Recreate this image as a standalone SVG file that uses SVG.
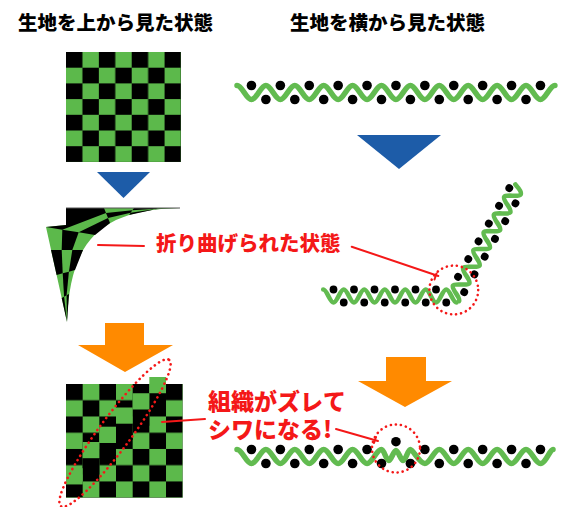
<svg xmlns="http://www.w3.org/2000/svg" xmlns:xlink="http://www.w3.org/1999/xlink" width="566" height="507" viewBox="0 0 566 507">
  <style>
    .title { font-family: "Noto Sans CJK JP", "Noto Sans", sans-serif; font-weight: 900; font-size: 19.5px; fill: #000; }
    .lbl { font-family: "Noto Sans CJK JP", "Noto Sans", sans-serif; font-weight: 900; fill: #f41818; }
    .grn { fill: #5cb94b; }
    .blk { fill: #000; }
    .wave { fill: none; stroke: #62bb50; stroke-width: 5.5; stroke-linecap: round; stroke-linejoin: round; }
    .wave-s { fill: none; stroke: #62bb50; stroke-width: 4.6; stroke-linecap: round; stroke-linejoin: round; }
    .dot { fill: #000; }
    .lead { fill: none; stroke: #f41818; stroke-width: 2; stroke-linecap: round; }
    .ring { fill: none; stroke: #f41818; stroke-width: 2.6; stroke-dasharray: 0.1 5; stroke-linecap: round; }
    .blue { fill: #1d5ca8; }
    .orange { fill: #ff8a00; }
  </style>
  <defs>
    <pattern id="chkTop" x="66" y="52" width="32.86" height="31.4" patternUnits="userSpaceOnUse">
      <rect width="16.43" height="15.7" fill="#000"/>
      <rect x="16.43" y="15.7" width="16.43" height="15.7" fill="#000"/>
    </pattern>
    <pattern id="chkBot" x="66" y="384" width="33.34" height="32.48" patternUnits="userSpaceOnUse">
      <rect width="16.67" height="16.24" fill="#000"/>
      <rect x="16.67" y="16.24" width="16.67" height="16.24" fill="#000"/>
    </pattern>
    <!-- warp yarn, large scale: crests at 0, 28.9, ... troughs between -->
    <path id="wv" class="wave" d="M0,-7 C5.2,-7 9.25,7 14.45,7 S23.7,-7 28.9,-7 S38.15,7 43.35,7 S52.6,-7 57.8,-7 S67.05,7 72.25,7 S81.5,-7 86.7,-7 S95.95,7 101.15,7 S110.4,-7 115.6,-7 S124.85,7 130.05,7 S139.3,-7 144.5,-7 S153.75,7 158.95,7 S168.2,-7 173.4,-7 S182.65,7 187.85,7 S197.1,-7 202.3,-7 S211.55,7 216.75,7 S226,-7 231.2,-7 S240.45,7 245.65,7 S254.9,-7 260.1,-7 S269.35,7 274.55,7 S283.8,-7 289,-7 S298.25,7 303.45,7 S312.7,-7 317.9,-7"/>
  </defs>

  <!-- headings -->
  <g id="title-top">
    <text class="title" x="18" y="30">生地を上から見た状態</text>
  </g>
  <g id="title-side">
    <text class="title" x="290" y="30">生地を横から見た状態</text>
  </g>

  <!-- flat cloth seen from above -->
  <g id="board-flat">
    <rect class="grn" x="66" y="52" width="115" height="110"/>
    <rect x="66" y="52" width="115" height="110" fill="url(#chkTop)"/>
  </g>

  <!-- bent cloth seen from above -->
  <g id="board-bent">
    <path class="grn" d="M180,208 L66,208 L66,225 L46,227 L67,322 C70,240 100,210 180,208 Z"/>
    <g class="blk">
      <polygon points="158,208 134,208 132.3,210.3 156,208.7"/>
      <polygon points="104,208 66,208 66,225 46,227 62.3,229.7 106,213"/>
      <polygon points="51,250 56.6,275 62.7,273.3 61.7,250"/>
      <polygon points="61.7,298 67,322 64.1,296.7"/>
      <polygon points="180,208 156,208.7 154,209.3"/>
      <polygon points="132.3,210.3 106,213 108,218 130.7,212.7"/>
      <polygon points="62.3,229.7 61.7,250 72.3,250 78.7,232.3"/>
      <polygon points="62.7,273.3 64.1,296.7 66.6,295.3 68.9,271.7"/>
      <polygon points="154,209.3 130.7,212.7 129,215 152,210"/>
      <polygon points="108,218 78.7,232.3 95,235 110,223"/>
      <polygon points="72.3,250 68.9,271.7 75,270 83,250"/>
      <polygon points="66.6,295.3 67,322 69,294"/>
    </g>
    <line x1="66" y1="208" x2="180" y2="208" stroke="#555" stroke-width="1"/>
  </g>

  <!-- wrinkled cloth seen from above -->
  <g id="board-wrinkled">
    <rect class="grn" x="66" y="384" width="116.67" height="113.7"/>
    <rect x="66" y="384" width="116.67" height="113.7" fill="url(#chkBot)"/>
    <!-- cells slipped along the diagonal crease -->
    <rect class="grn" x="149.33" y="377" width="16.67" height="16.24"/>
    <rect class="blk" x="149.33" y="393.24" width="16.67" height="16.24"/>
    <rect class="grn" x="132.67" y="393.24" width="16.67" height="16.24"/>
    <rect class="blk" x="132.67" y="409.5" width="16.67" height="16.24"/>
    <rect class="grn" x="116" y="407.5" width="16.67" height="16.24"/>
    <rect class="blk" x="116" y="423.7" width="16.67" height="16.24"/>
    <rect class="grn" x="99.33" y="426.7" width="16.67" height="16.24"/>
    <rect class="blk" x="99.33" y="443" width="16.67" height="16.24"/>
    <rect class="grn" x="82.67" y="442" width="16.67" height="16.24"/>
    <rect class="blk" x="82.67" y="458.2" width="16.67" height="16.24"/>
    <rect class="grn" x="66" y="468.2" width="16.67" height="16.24"/>
  </g>

  <!-- flat cloth seen from the side -->
  <g id="fabric-flat" transform="translate(237,92.5)">
    <use xlink:href="#wv" href="#wv"/>
    <g class="dot">
      <circle cx="14.45" cy="-7" r="4.8"/><circle cx="43.35" cy="-7" r="4.8"/><circle cx="72.25" cy="-7" r="4.8"/>
      <circle cx="101.15" cy="-7" r="4.8"/><circle cx="130.05" cy="-7" r="4.8"/><circle cx="158.95" cy="-7" r="4.8"/>
      <circle cx="187.85" cy="-7" r="4.8"/><circle cx="216.75" cy="-7" r="4.8"/><circle cx="245.65" cy="-7" r="4.8"/>
      <circle cx="274.55" cy="-7" r="4.8"/><circle cx="303.45" cy="-7" r="4.8"/>
      <circle cx="28.9" cy="7" r="4.8"/><circle cx="57.8" cy="7" r="4.8"/><circle cx="86.7" cy="7" r="4.8"/>
      <circle cx="115.6" cy="7" r="4.8"/><circle cx="144.5" cy="7" r="4.8"/><circle cx="173.4" cy="7" r="4.8"/>
      <circle cx="202.3" cy="7" r="4.8"/><circle cx="231.2" cy="7" r="4.8"/><circle cx="260.1" cy="7" r="4.8"/>
      <circle cx="289" cy="7" r="4.8"/>
    </g>
  </g>

  <!-- bent cloth seen from the side -->
  <g id="fabric-bent">
    <g transform="translate(323.25,296)">
      <path class="wave-s" d="M0,-6.5 C3.7,-6.5 6.55,6.5 10.25,6.5 S16.8,-6.5 20.5,-6.5 S27.05,6.5 30.75,6.5 S37.3,-6.5 41,-6.5 S47.55,6.5 51.25,6.5 S57.8,-6.5 61.5,-6.5 S68.05,6.5 71.75,6.5 S78.3,-6.5 82,-6.5 S88.55,6.5 92.25,6.5 S98.8,-6.5 102.5,-6.5 S109.05,6.5 112.75,6.5 S119.3,-6.5 123,-6.5 S129.55,6.5 133.25,6.5"/>
      <g class="dot">
        <circle cx="10.25" cy="-6.5" r="3.9"/><circle cx="30.75" cy="-6.5" r="3.9"/><circle cx="51.25" cy="-6.5" r="3.9"/>
        <circle cx="71.75" cy="-6.5" r="3.9"/><circle cx="92.25" cy="-6.5" r="3.9"/><circle cx="112.75" cy="-6.5" r="3.9"/>
        <circle cx="20.5" cy="6.5" r="3.9"/><circle cx="41" cy="6.5" r="3.9"/><circle cx="61.5" cy="6.5" r="3.9"/>
        <circle cx="82" cy="6.5" r="3.9"/><circle cx="102.5" cy="6.5" r="3.9"/><circle cx="123" cy="6.5" r="3.9"/>
      </g>
    </g>
    <g transform="translate(454.5,296) rotate(-60)">
      <path class="wave-s" d="M-2.1,6.5 C1.6,6.5 4.45,-6.5 8.15,-6.5 S14.7,6.5 18.4,6.5 S24.95,-6.5 28.65,-6.5 S35.2,6.5 38.9,6.5 S45.45,-6.5 49.15,-6.5 S55.7,6.5 59.4,6.5 S65.95,-6.5 69.65,-6.5 S76.2,6.5 79.9,6.5 S86.45,-6.5 90.15,-6.5 S96.7,6.5 100.4,6.5 S106.95,-6.5 110.65,-6.5 S117.2,6.5 120.9,6.5 S126,-1 127,-3"/>
      <g class="dot">
        <circle cx="18.4" cy="-6.5" r="3.9"/><circle cx="38.9" cy="-6.5" r="3.9"/><circle cx="59.4" cy="-6.5" r="3.9"/>
        <circle cx="79.9" cy="-6.5" r="3.9"/><circle cx="100.4" cy="-6.5" r="3.9"/><circle cx="120.9" cy="-6.5" r="3.9"/>
        <circle cx="8.15" cy="6.5" r="3.9"/><circle cx="28.65" cy="6.5" r="3.9"/><circle cx="49.15" cy="6.5" r="3.9"/>
        <circle cx="69.65" cy="6.5" r="3.9"/><circle cx="90.15" cy="6.5" r="3.9"/><circle cx="110.65" cy="6.5" r="3.9"/>
      </g>
    </g>
  </g>

  <!-- wrinkled cloth seen from the side -->
  <g id="fabric-wrinkled" transform="translate(237,456.5)">
    <path class="wave" d="M0,-7 C5.2,-7 9.25,7 14.45,7 S23.7,-7 28.9,-7 S38.15,7 43.35,7 S52.6,-7 57.8,-7 S67.05,7 72.25,7 S81.5,-7 86.7,-7 S95.95,7 101.15,7 S110.4,-7 115.6,-7 S124.85,7 130.05,7 S139.3,-7 144.5,-7 C147,-7 149.2,4 151.7,4 S156.5,-6 158.95,-6 S163.7,4 166.2,4 S170.9,-7 173.4,-7 S182.65,7 187.85,7 S197.1,-7 202.3,-7 S211.55,7 216.75,7 S226,-7 231.2,-7 S240.45,7 245.65,7 S254.9,-7 260.1,-7 S269.35,7 274.55,7 S283.8,-7 289,-7 S298.25,7 303.45,7 S312.7,-7 316,-7"/>
    <g class="dot">
      <circle cx="14.45" cy="-7" r="4.8"/><circle cx="43.35" cy="-7" r="4.8"/><circle cx="72.25" cy="-7" r="4.8"/>
      <circle cx="101.15" cy="-7" r="4.8"/><circle cx="130.05" cy="-7" r="4.8"/><circle cx="158.95" cy="-14.8" r="4.8"/>
      <circle cx="187.85" cy="-7" r="4.8"/><circle cx="216.75" cy="-7" r="4.8"/><circle cx="245.65" cy="-7" r="4.8"/>
      <circle cx="274.55" cy="-7" r="4.8"/><circle cx="303.45" cy="-7" r="4.8"/>
      <circle cx="28.9" cy="7" r="4.8"/><circle cx="57.8" cy="7" r="4.8"/><circle cx="86.7" cy="7" r="4.8"/>
      <circle cx="115.6" cy="7" r="4.8"/><circle cx="144.5" cy="7" r="4.8"/><circle cx="173.4" cy="7" r="4.8"/>
      <circle cx="202.3" cy="7" r="4.8"/><circle cx="231.2" cy="7" r="4.8"/><circle cx="260.1" cy="7" r="4.8"/>
      <circle cx="289" cy="7" r="4.8"/>
    </g>
  </g>

  <!-- step arrows -->
  <g id="arrows">
    <polygon class="blue" points="97,172 150,172 123.5,198"/>
    <polygon class="blue" points="357,135 441,135 399,169"/>
    <polygon class="orange" points="105,323 144,323 144,345 173,345 125,372 78,345 105,345"/>
    <polygon class="orange" points="386,357 426,357 426,381 452,381 405,407 358,381 386,381"/>
  </g>

  <!-- callouts -->
  <g id="callout-bent">
    <line class="lead" x1="98" y1="245" x2="144" y2="246"/>
    <text class="lbl" x="156" y="250.5" font-size="20.5">折り曲げられた状態</text>
    <line class="lead" x1="351.7" y1="246.7" x2="438.3" y2="276"/>
    <line class="lead" x1="434.5" y1="279.5" x2="436.5" y2="273.5"/>
    <circle class="ring" cx="453.8" cy="290" r="24.4"/>
  </g>
  <g id="callout-wrinkle">
    <ellipse class="ring" cx="115" cy="433" rx="91" ry="16" transform="rotate(-53.5 115 433)"/>
    <line class="lead" x1="162" y1="422" x2="205" y2="419"/>
    <text class="lbl" font-size="23"><tspan x="208" y="409.5">組織がズレて</tspan><tspan x="208" y="437.5">シワになる!</tspan></text>
    <line class="lead" x1="336" y1="429" x2="378" y2="441"/>
    <line class="lead" x1="374" y1="443" x2="376" y2="437"/>
    <circle class="ring" cx="396" cy="448.5" r="24"/>
  </g>
</svg>
